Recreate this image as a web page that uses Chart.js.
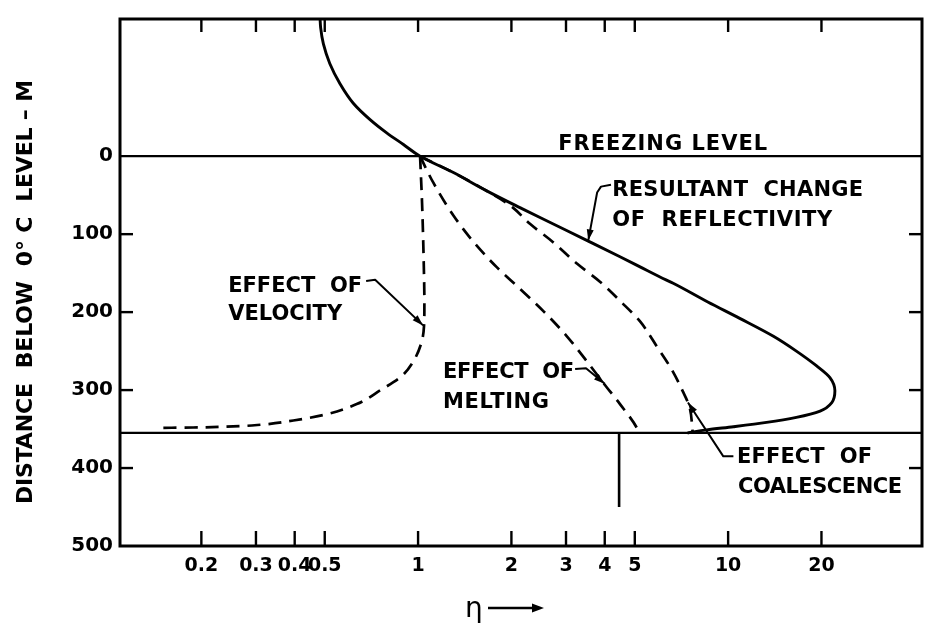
<!DOCTYPE html>
<html lang="en">
<head>
<meta charset="UTF-8">
<title>Reflectivity change below the freezing level</title>
<style>
  html,body{margin:0;padding:0;background:#fff;}
  #wrap{width:926px;height:626px;}
</style>
<script src="https://cdn.jsdelivr.net/npm/chart.js"></script>
</head>
<body>
<div id="wrap"><canvas id="chart" width="926" height="626"></canvas></div>
<script>
// axis ticks
const xTickValues = [0.2, 0.3, 0.4, 0.5, 1, 2, 3, 4, 5, 10, 20];
const xTickLabels = ['0.2', '0.3', '0.4', '0.5', '1', '2', '3', '4', '5', '10', '20'];
const yTickValues = [0, 100, 200, 300, 400, 500];
const yInnerTicks = [100, 200, 300, 400];

// resultant change of reflectivity (solid)
const resultantEta   = [0.483, 0.485, 0.495, 0.519, 0.56, 0.618, 0.70, 0.792, 0.897, 1.015, 1.30, 1.665, 2.13, 2.73, 3.50, 4.48, 5.20, 6.03, 6.65, 8.6, 10.9, 14.0, 16.6, 19.3, 21.3, 22.1, 21.6, 19.8, 16.6, 13.3, 10.4, 8.53, 7.4];
const resultantDepth = [-176, -165, -144, -119, -93, -68, -47, -30, -15, 0, 21, 44.5, 66, 87, 108, 129, 142, 155, 163, 187, 208, 231, 250, 269, 284, 301, 316, 327, 335, 341.5, 347, 351, 355];

// effect of velocity (dashed)
const velocityEta   = [1.015, 1.03, 1.042, 1.048, 1.045, 1.028, 0.966, 0.88, 0.757, 0.634, 0.507, 0.396, 0.31, 0.241, 0.188, 0.147];
const velocityDepth = [0, 60, 130, 190, 218, 237.5, 263, 283, 300, 318, 331, 339, 344.5, 347, 348, 348.5];

// effect of melting (dashed)
const meltingEta   = [1.015, 1.12, 1.30, 1.51, 1.79, 2.13, 2.54, 3.02, 3.50, 3.96, 4.48, 5.07, 5.15];
const meltingDepth = [0, 34, 76, 110, 142, 170, 199, 231, 263, 291, 318, 348, 355];

// effect of coalescence (dashed)
const coalescenceEta   = [1.015, 1.30, 1.665, 1.98, 2.30, 2.72, 3.26, 3.86, 4.52, 5.20, 5.91, 6.54, 7.13, 7.51, 7.69];
const coalescenceDepth = [0, 21, 44.5, 63, 87, 110, 138, 161, 187, 212, 245, 272, 301, 322, 355];

// reference levels
const freezingDepth = 0;
const bottomDepth = 355;
const markerEta = 4.45;
const markerDepth = [355, 450];

const etaMin = 0.1093, etaMax = 42.2;
const depthTop = -176, depthBottom = 500;

// labels, anchored in data coordinates (eta, depth) with fitted pixel width
const notes = [
  { text: 'FREEZING LEVEL', eta: 2.83, depth: -8, w: 209 },
  { text: 'RESULTANT  CHANGE', eta: 4.23, depth: 51, w: 251 },
  { text: 'OF  REFLECTIVITY', eta: 4.23, depth: 89, w: 220 },
  { text: 'EFFECT  OF', eta: 0.244, depth: 174, w: 134 },
  { text: 'VELOCITY', eta: 0.244, depth: 210, w: 114 },
  { text: 'EFFECT  OF', eta: 1.204, depth: 284, w: 131 },
  { text: 'MELTING', eta: 1.204, depth: 323, w: 106 },
  { text: 'EFFECT  OF', eta: 10.68, depth: 394, w: 135 },
  { text: 'COALESCENCE', eta: 10.76, depth: 432, w: 164 }
];
const leaders = [
  [[4.19, 36.5], [3.89, 39], [3.78, 46.5], [3.54, 108]],
  [[0.68, 160], [0.727, 158.5], [1.038, 217]],
  [[3.21, 273], [3.48, 272], [4.0, 292]],
  [[10.4, 385], [9.65, 385], [7.42, 316]]
];

const pairs = (xs, ys) => xs.map((x, i) => ({ x: x, y: ys[i] }));
const curve = (xs, ys, extra) => Object.assign({
  data: pairs(xs, ys), pointRadius: 0, fill: false,
  borderColor: '#000', borderWidth: 2.7, cubicInterpolationMode: 'monotone', order: 1
}, extra);
const straight = (xs, ys, w) => ({
  data: pairs(xs, ys), pointRadius: 0, fill: false,
  borderColor: '#000', borderWidth: w, tension: 0, order: 2
});

function seg(ctx, x0, y0, x1, y1) {
  ctx.beginPath(); ctx.moveTo(x0, y0); ctx.lineTo(x1, y1); ctx.stroke();
}
function arrowHead(ctx, x0, y0, x1, y1, len, half) {
  const a = Math.atan2(y1 - y0, x1 - x0);
  ctx.beginPath();
  ctx.moveTo(x1, y1);
  ctx.lineTo(x1 - len * Math.cos(a) + half * Math.sin(a), y1 - len * Math.sin(a) - half * Math.cos(a));
  ctx.lineTo(x1 - len * Math.cos(a) - half * Math.sin(a), y1 - len * Math.sin(a) + half * Math.cos(a));
  ctx.closePath(); ctx.fill();
}
function fitText(ctx, str, x, y, width) {
  ctx.letterSpacing = '0px';
  const n = [...str].length;
  const sp = (width - ctx.measureText(str).width) / (n - 1);
  ctx.letterSpacing = sp.toFixed(2) + 'px';
  ctx.fillText(str, x, y);
  ctx.letterSpacing = '0px';
}

const paper = {
  id: 'paper',
  afterDraw(chart) {
    const { ctx, chartArea: a } = chart;
    const x = chart.scales.x, y = chart.scales.y;
    ctx.save();
    ctx.strokeStyle = '#000'; ctx.fillStyle = '#000';

    // inward tick marks
    ctx.lineWidth = 2.4;
    xTickValues.forEach(v => {
      const px = x.getPixelForValue(v);
      seg(ctx, px, a.bottom, px, a.bottom - 15);
      seg(ctx, px, a.top, px, a.top + 13);
    });
    yInnerTicks.forEach(v => {
      const py = y.getPixelForValue(v);
      seg(ctx, a.left, py, a.left + 13, py);
      seg(ctx, a.right, py, a.right - 13, py);
    });
    ctx.lineWidth = 3;
    ctx.strokeRect(a.left, a.top, a.right - a.left, a.bottom - a.top);

    // labels
    ctx.font = 'bold 21px "DejaVu Sans"';
    ctx.textAlign = 'left'; ctx.textBaseline = 'alphabetic';
    notes.forEach(n => fitText(ctx, n.text, x.getPixelForValue(n.eta), y.getPixelForValue(n.depth), n.w));

    // leader lines with arrows
    ctx.lineWidth = 2; ctx.lineJoin = 'round';
    leaders.forEach(pts => {
      const p = pts.map(q => [x.getPixelForValue(q[0]), y.getPixelForValue(q[1])]);
      ctx.beginPath();
      p.forEach((q, i) => i ? ctx.lineTo(q[0], q[1]) : ctx.moveTo(q[0], q[1]));
      ctx.stroke();
      const s = p[p.length - 2], e = p[p.length - 1];
      arrowHead(ctx, s[0], s[1], e[0], e[1], 11, 3.5);
    });

    // y axis title
    ctx.save();
    ctx.translate(32, 504);
    ctx.rotate(-Math.PI / 2);
    ctx.font = 'bold 22px "DejaVu Sans"';
    fitText(ctx, 'DISTANCE  BELOW  0° C  LEVEL – M', 0, 0, 424);
    ctx.restore();

    // x axis title
    ctx.font = '28px "DejaVu Sans"';
    ctx.fillText('η', 465, 617);
    ctx.lineWidth = 2.4;
    seg(ctx, 488, 608, 534, 608);
    arrowHead(ctx, 488, 608, 544, 608, 12, 4.5);
    ctx.restore();
  }
};

Chart.defaults.font.family = '"DejaVu Sans"';
Chart.defaults.color = '#000';

new Chart(document.getElementById('chart'), {
  type: 'line',
  data: {
    datasets: [
      curve(resultantEta, resultantDepth, { order: 0, borderWidth: 2.9 }),
      curve(velocityEta, velocityDepth, { borderDash: [13, 8] }),
      curve(meltingEta, meltingDepth, { borderDash: [13, 8] }),
      curve(coalescenceEta, coalescenceDepth, { borderDash: [13, 8] }),
      straight([etaMin, etaMax], [freezingDepth, freezingDepth], 2.2),
      straight([etaMin, etaMax], [bottomDepth, bottomDepth], 2.2),
      straight([markerEta, markerEta], markerDepth, 2.6)
    ]
  },
  options: {
    responsive: false,
    animation: false,
    indexAxis: 'y',
    layout: { padding: { top: 15, right: 4, left: 0, bottom: 0 } },
    plugins: { legend: { display: false }, tooltip: { enabled: false } },
    scales: {
      x: {
        type: 'logarithmic', min: etaMin, max: etaMax,
        grid: { display: false, drawTicks: false }, border: { display: false },
        afterBuildTicks: s => { s.ticks = xTickValues.map(v => ({ value: v })); },
        afterFit: s => { s.height = 80; },
        ticks: {
          autoSkip: false, maxRotation: 0, minRotation: 0, padding: 9,
          font: { size: 19, weight: 'bold' },
          callback: (v, i) => xTickLabels[i]
        }
      },
      y: {
        type: 'linear', reverse: true, min: depthTop, max: depthBottom,
        grid: { display: false, drawTicks: false }, border: { display: false },
        afterBuildTicks: s => { s.ticks = yTickValues.map(v => ({ value: v })); },
        afterFit: s => { s.width = 120; },
        ticks: {
          padding: 7,
          font: { size: 20, weight: 'bold' },
          callback: v => String(v)
        }
      }
    }
  },
  plugins: [paper]
});
</script>
</body>
</html>
